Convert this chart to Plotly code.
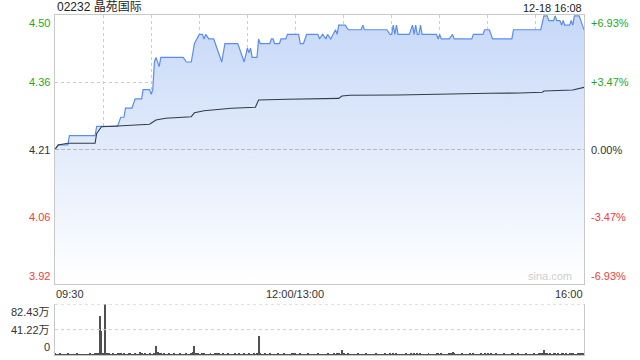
import plotly.graph_objects as go

# ---------------- data ----------------
title_text = "02232 晶苑国际"
stamp_text = "12-18 16:08"
prev_close = 4.21
y_min, y_max = 3.918, 4.502

price_ticks = [4.50, 4.36, 4.21, 4.06, 3.92]
price_tick_labels = ["4.50", "4.36", "4.21", "4.06", "3.92"]
pct_tick_labels = ["+6.93%", "+3.47%", "0.00%", "-3.47%", "-6.93%"]
x_tick_labels = ["09:30", "12:00/13:00", "16:00"]
vol_tick_labels = ["82.43万", "41.22万", "0"]
vol_max = 82.43

price_times = ["09:30", "09:32", "09:38", "09:39", "09:55", "09:56", "10:09", "10:10", "10:11", "10:13",
               "10:14", "10:18", "10:20", "10:24", "10:25", "10:29", "10:30", "10:31", "10:32", "10:33",
               "10:35", "10:36", "10:50", "10:52", "10:55", "10:57", "11:00", "11:02", "11:03", "11:04",
               "11:06", "11:09", "11:13", "11:14", "11:16", "11:24", "11:28", "11:30", "11:31", "11:32",
               "11:33", "11:36", "11:37", "11:38", "11:44", "11:45", "11:46", "11:47", "11:50", "11:51",
               "11:54", "11:55", "13:02", "13:03", "13:05", "13:07", "13:14", "13:15", "13:17", "13:19",
               "13:20", "13:22", "13:25", "13:26", "13:27", "13:31", "13:33", "13:41", "13:42", "13:43",
               "13:57", "13:59", "14:00", "14:01", "14:02", "14:03", "14:04", "14:11", "14:13", "14:14",
               "14:15", "14:16", "14:17", "14:18", "14:19", "14:28", "14:29", "14:30", "14:31", "14:36",
               "14:38", "14:39", "14:50", "14:51", "14:57", "14:58", "15:01", "15:03", "15:15", "15:16",
               "15:33", "15:35", "15:37", "15:38", "15:41", "15:42", "15:43", "15:45", "15:46", "15:47",
               "15:48", "15:51", "15:52", "15:53", "15:54", "15:57", "16:00"]
price_vals = [4.21, 4.22, 4.22, 4.24, 4.24, 4.26, 4.26, 4.27, 4.28, 4.28,
              4.30, 4.30, 4.32, 4.32, 4.34, 4.34, 4.33, 4.34, 4.40, 4.41,
              4.39, 4.41, 4.41, 4.40, 4.40, 4.44, 4.46, 4.46, 4.45, 4.46,
              4.45, 4.45, 4.41, 4.40, 4.44, 4.44, 4.40, 4.43, 4.42, 4.43,
              4.41, 4.41, 4.45, 4.44, 4.44, 4.45, 4.45, 4.44, 4.44, 4.45,
              4.45, 4.46, 4.46, 4.44, 4.44, 4.46, 4.46, 4.45, 4.46, 4.45,
              4.46, 4.45, 4.47, 4.46, 4.48, 4.48, 4.47, 4.47, 4.48, 4.47,
              4.47, 4.46, 4.46, 4.48, 4.46, 4.48, 4.46, 4.46, 4.48, 4.46,
              4.48, 4.46, 4.46, 4.48, 4.46, 4.46, 4.45, 4.46, 4.45, 4.45,
              4.46, 4.45, 4.45, 4.46, 4.46, 4.47, 4.47, 4.45, 4.45, 4.47,
              4.47, 4.50, 4.50, 4.49, 4.49, 4.50, 4.49, 4.49, 4.48, 4.49,
              4.48, 4.48, 4.49, 4.48, 4.50, 4.50, 4.47]

avg_times = ["09:30", "09:32", "09:38", "09:55", "09:56", "09:58", "09:59", "10:09", "10:22", "10:29",
             "10:33", "10:39", "10:55", "10:57", "11:03", "11:20", "11:35", "11:37", "11:55", "13:20",
             "13:27", "13:29", "13:34", "14:04", "14:26", "14:39", "15:01", "15:20", "15:34", "15:35",
             "15:53", "16:00"]
avg_vals = [4.210, 4.220, 4.2235, 4.2235, 4.245, 4.256, 4.2595, 4.261, 4.263, 4.2647,
            4.274, 4.2777, 4.2812, 4.290, 4.2942, 4.2994, 4.3016, 4.3175, 4.319, 4.3211,
            4.3211, 4.3262, 4.3277, 4.3283, 4.3298, 4.332, 4.332, 4.3327, 4.3342, 4.337,
            4.3392, 4.345]

# per-minute volume (万), 09:30 .. 16:00 (331 trading minutes)
volumes = [
    2.1, 1.0, 0.8, 1.2, 0.6, 0.9, 1.1, 0.7, 1.3, 0.8, 0.6, 1.0, 0.9, 0.7, 1.2, 0.8, 0.6, 1.1, 0.9, 0.7, 1.0, 0.8, 1.2, 0.6, 0.9, 1.4, 2.0, 1.5, 63.4, 37.9,
    3.2, 82.43, 2.5, 1.8, 1.2, 0.9, 1.5, 1.1, 0.8, 1.3, 3.0, 1.2, 0.9, 1.6, 1.0, 0.8, 1.2, 2.8, 1.0, 0.9, 1.4, 1.1, 0.8, 5.0, 1.2, 0.9, 1.5, 1.0, 0.8, 1.3,
    1.1, 0.9, 2.4, 14.6, 5.0, 1.6, 1.2, 0.9, 1.4, 1.0, 0.8, 1.2, 1.1, 0.7, 1.3, 0.9, 1.0, 0.8, 1.2, 0.7, 1.1, 0.9, 1.3, 0.8, 1.0, 1.2, 5.0, 14.6, 2.2, 1.3,
    1.0, 0.8, 1.2, 1.6, 0.9, 1.1, 0.7, 1.3, 1.0, 0.8, 1.4, 1.2, 2.6, 0.9, 1.1, 1.8, 0.8, 1.0, 1.2, 0.7, 1.1, 0.9, 1.3, 0.8, 1.0, 1.2, 0.9, 0.7, 1.5, 1.1,
    0.9, 1.2, 1.0, 0.8, 1.3, 1.1, 2.0, 29.8, 2.4, 1.1, 0.9, 1.3, 1.0, 0.8, 1.2, 0.9, 1.1, 0.8, 1.0, 1.3, 0.9, 1.1, 0.8, 1.2, 1.0, 0.9, 1.1, 0.8, 1.3, 2.2,
    1.4, 1.0, 0.8, 1.2, 0.9, 1.1, 0.7, 1.0, 1.3, 0.9, 0.8, 1.1, 1.0, 0.7, 1.2, 0.9, 1.1, 0.8, 1.0, 0.9, 1.2, 0.8, 1.1, 1.0, 1.5, 0.9, 1.3, 2.0, 1.1, 8.0,
    1.6, 1.0, 0.8, 1.2, 0.9, 1.1, 0.7, 1.0, 0.8, 1.2, 0.9, 1.0, 1.1, 0.8, 1.3, 0.9, 1.0, 0.7, 1.1, 0.9, 1.2, 0.8, 1.0, 0.9, 1.1, 0.8, 1.2, 1.0, 0.9, 1.3,
    1.1, 1.4, 1.0, 1.2, 0.9, 0.8, 1.1, 1.0, 0.7, 1.2, 0.9, 1.0, 1.3, 1.1, 1.5, 1.0, 1.2, 0.9, 1.4, 1.0, 0.8, 1.1, 0.9, 1.2, 1.0, 0.8, 1.1, 0.9, 1.3, 1.6,
    1.0, 1.2, 0.9, 1.1, 0.8, 1.0, 1.2, 1.4, 5.0, 1.3, 1.0, 0.9, 1.1, 0.8, 1.2, 1.0, 0.9, 1.1, 0.8, 1.2, 1.0, 1.3, 0.9, 1.1, 1.0, 0.8, 1.2, 0.9, 1.5, 1.1,
    1.3, 1.0, 1.6, 1.1, 0.9, 1.2, 1.0, 0.8, 1.1, 0.9, 1.2, 1.0, 0.8, 1.1, 0.9, 1.4, 1.7, 1.0, 0.9, 1.2, 1.0, 0.8, 1.1, 0.9, 1.2, 1.0, 0.8, 1.1, 1.0, 1.2,
    0.9, 1.1, 1.3, 1.5, 2.2, 8.0, 2.0, 1.2, 1.0, 1.4, 1.1, 1.6, 1.2, 0.9, 1.3, 1.0, 1.5, 1.2, 1.1, 1.4, 1.0, 1.3, 1.2, 1.6, 1.1, 1.0, 1.3, 1.2, 1.5, 1.8, 3.5,
]


def tmin(t):
    """trading-minute index from 09:30 (lunch break collapsed)"""
    h, m = map(int, t.split(":"))
    v = h * 60 + m
    if v >= 13 * 60:
        return 150 + (v - 13 * 60)
    return v - (9 * 60 + 30)


px = [tmin(t) for t in price_times]
ax = [tmin(t) for t in avg_times]
vx = list(range(len(volumes)))

GREEN = "#1ea81e"
RED = "#f03c3c"
DARK = "#333333"
GRID = "#cccccc"
BORDER = "#c8c8c8"
FONT = "Liberation Sans, Arial, Noto Sans CJK SC, sans-serif"

fig = go.Figure()
fig.add_trace(go.Scatter(
    x=px, y=price_vals, mode="lines",
    line=dict(color="#5b8def", width=1.2),
    fill="tozeroy",
    fillgradient=dict(type="vertical", start=y_min, stop=y_max,
                      colorscale=[[0, "rgba(255,255,255,1)"], [1, "rgb(198,216,248)"]]),
    xaxis="x", yaxis="y", hoverinfo="skip"))
fig.add_trace(go.Scatter(
    x=ax, y=avg_vals, mode="lines",
    line=dict(color="#343b47", width=1.1),
    xaxis="x", yaxis="y", hoverinfo="skip"))
fig.add_trace(go.Bar(
    x=vx, y=volumes, width=0.62,
    marker=dict(color="#505050", line=dict(width=0)),
    xaxis="x2", yaxis="y2", hoverinfo="skip"))

main_bottom = (355 - 284) / 340
vol_top = (355 - 304.3) / 340

fig.update_layout(
    width=640, height=360,
    margin=dict(l=55, r=56, t=15, b=5),
    paper_bgcolor="white", plot_bgcolor="white",
    showlegend=False, bargap=0,
    font=dict(family=FONT, size=11, color=DARK),
    xaxis=dict(domain=[0, 1], range=[0, 330], anchor="y",
               tickvals=list(range(30, 330, 30)), showticklabels=False, ticks="",
               showgrid=True, gridcolor=GRID, griddash="dot", gridwidth=1,
               showline=True, linecolor=BORDER, mirror=True, zeroline=False),
    yaxis=dict(domain=[main_bottom, 1], range=[y_min, y_max], anchor="x",
               tickvals=[prev_close * (1 - 0.0347), prev_close * (1 + 0.0347)],
               showticklabels=False, ticks="",
               showgrid=True, gridcolor=GRID, griddash="dot", gridwidth=1,
               showline=True, linecolor=BORDER, mirror=True, zeroline=False),
    xaxis2=dict(domain=[0, 1], range=[0, 330], anchor="y2",
                showticklabels=False, ticks="", showgrid=False,
                showline=True, linecolor=BORDER, zeroline=False),
    yaxis2=dict(domain=[0, vol_top], range=[0, vol_max], anchor="x2",
                showticklabels=False, ticks="", showgrid=False,
                showline=True, linecolor=BORDER, mirror=True, zeroline=False),
)

shapes = [
    dict(type="line", xref="x", yref="y", x0=0, x1=330, y0=prev_close, y1=prev_close,
         line=dict(color="#b8b8b8", width=1, dash="4px,2px")),
    dict(type="line", xref="x2", yref="y2", x0=0, x1=330, y0=vol_max, y1=vol_max,
         line=dict(color=GRID, width=1, dash="dot")),
    dict(type="line", xref="x2", yref="y2", x0=0, x1=330, y0=vol_max / 2, y1=vol_max / 2,
         line=dict(color=GRID, width=1, dash="dot")),
]
fig.update_layout(shapes=shapes)

ann = []
# title and timestamp
ann.append(dict(text=title_text, xref="paper", yref="paper", x=0, y=1, xanchor="left",
                yanchor="bottom", yshift=-1, showarrow=False, font=dict(size=12, color="#222")))
ann.append(dict(text=stamp_text, xref="paper", yref="paper", x=1, y=1, xanchor="right",
                yanchor="bottom", yshift=-1, showarrow=False, font=dict(size=11, color="#222")))

label_colors = [GREEN, GREEN, DARK, RED, RED]
label_pos = [y_max, prev_close * 1.0347, prev_close, prev_close * (1 - 0.0347), y_min]
anchors = ["top", "middle", "middle", "middle", "bottom"]
for lab, pct, col, yv, anc in zip(price_tick_labels, pct_tick_labels, label_colors, label_pos, anchors):
    ann.append(dict(text=lab, xref="paper", yref="y", x=0, y=yv, xanchor="right", yanchor=anc,
                    xshift=-3, showarrow=False, font=dict(size=11, color=col)))
    ann.append(dict(text=pct, xref="paper", yref="y", x=1, y=yv, xanchor="left", yanchor=anc,
                    xshift=5, showarrow=False, font=dict(size=11, color=col)))

# x labels
xl_y = (355 - 293.5) / 340
ann.append(dict(text=x_tick_labels[0], xref="x", yref="paper", x=0, y=xl_y, xanchor="left",
                yanchor="middle", xshift=-1, showarrow=False, font=dict(size=11, color=DARK)))
ann.append(dict(text=x_tick_labels[1], xref="x", yref="paper", x=150, y=xl_y, xanchor="center",
                yanchor="middle", showarrow=False, font=dict(size=11, color=DARK)))
ann.append(dict(text=x_tick_labels[2], xref="x", yref="paper", x=330, y=xl_y, xanchor="right",
                yanchor="middle", xshift=1, showarrow=False, font=dict(size=11, color=DARK)))

# volume labels
for lab, yv, anc in zip(vol_tick_labels, [vol_max, vol_max / 2, 0], ["top", "middle", "bottom"]):
    ann.append(dict(text=lab, xref="paper", yref="y2", x=0, y=yv, xanchor="right", yanchor=anc,
                    xshift=-3, showarrow=False, font=dict(size=11, color=DARK)))

# watermark
ann.append(dict(text="sina.com", xref="x", yref="y", x=324, y=y_min, xanchor="right",
                yanchor="bottom", showarrow=False, font=dict(size=11, color="#cfcfcf")))

fig.update_layout(annotations=ann)
fig.write_html("out.html")
